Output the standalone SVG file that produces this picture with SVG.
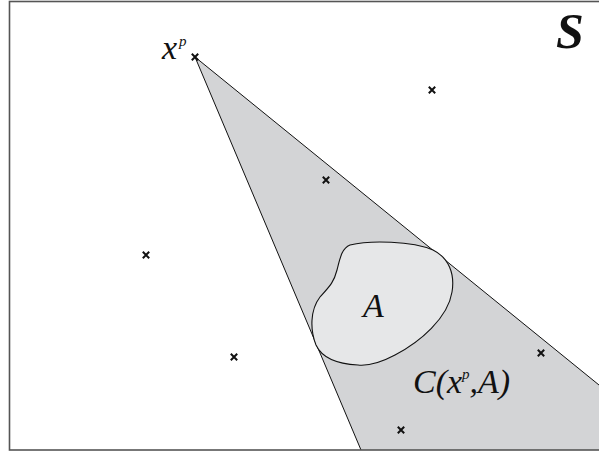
<svg xmlns="http://www.w3.org/2000/svg" width="599" height="453" viewBox="0 0 599 453">
<style>
.lbl{font-family:"Liberation Serif","Times New Roman",serif;font-style:italic;fill:#111}
.pt{stroke:#111;stroke-width:2;fill:none}
</style>
<defs>
<g id="cross"><path class="pt" d="M-3.2,-3.2L3.2,3.2M-3.2,3.2L3.2,-3.2"/></g>
</defs>
<rect x="0" y="0" width="599" height="453" fill="#fff"/>
<g id="cone">
<polygon points="195,57 599,385 599,450 361,450" fill="#d3d4d6" stroke="none"/>
<path d="M361,450 L195,57 L599,385" fill="none" stroke="#111" stroke-width="1"/>
</g>
<g id="blobA">
<path d="M350,245 C370,240 412,241 433,250 C449,258 455,274 452,292 C448,318 420,342 395,355 C380,363 368,366 358,365 C338,364 322,358 316,345 C310,330 310,310 320,297 C330,286 334,282 337,270 C340,258 342,248 350,245 Z" fill="#e6e7e8" stroke="#111" stroke-width="1.1"/>
</g>
<rect id="frame" x="9.5" y="1.5" width="600" height="448.5" fill="none" stroke="#555" stroke-width="1.6"/>
<g id="points">
<use href="#cross" x="195" y="57"/>
<use href="#cross" x="432" y="90"/>
<use href="#cross" x="326" y="180"/>
<use href="#cross" x="146" y="255"/>
<use href="#cross" x="234" y="357"/>
<use href="#cross" x="541" y="353"/>
<use href="#cross" x="401" y="430"/>
</g>
<g id="labels">
<text class="lbl" x="556" y="48" font-size="50" font-weight="bold">S</text>
<text class="lbl" x="162" y="59" font-size="34">x</text>
<text class="lbl" x="179" y="46" font-size="15">p</text>
<text class="lbl" x="363" y="317" font-size="34">A</text>
<text class="lbl" x="413" y="393" font-size="34">C(x<tspan font-size="15" dy="-14">p</tspan><tspan dy="14">,A)</tspan></text>
</g>
</svg>
